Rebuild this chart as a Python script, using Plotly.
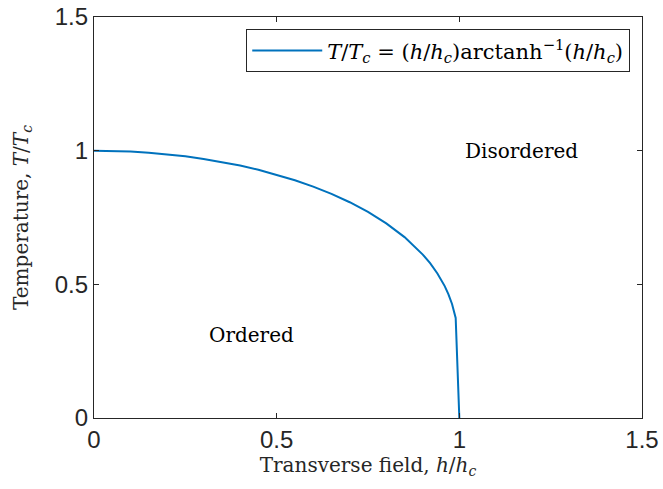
import plotly.graph_objects as go

# Data: h/hc and T/Tc along the phase boundary
h_vals = [0.0, 0.05, 0.10, 0.15, 0.20, 0.25, 0.30, 0.35, 0.40, 0.45, 0.50,
          0.55, 0.60, 0.65, 0.70, 0.75, 0.80, 0.85, 0.90, 0.92, 0.94, 0.95,
          0.96, 0.97, 0.98, 0.99, 1.00]
T_vals = [1.000, 0.9992, 0.9967, 0.9925, 0.9865, 0.9788, 0.9692, 0.9577,
          0.9442, 0.9284, 0.9102, 0.8894, 0.8656, 0.8384, 0.8071, 0.7709,
          0.7282, 0.6767, 0.6113, 0.5790, 0.5408, 0.5186, 0.4933, 0.4636,
          0.4265, 0.3741, 0.0]

tick_vals = [0, 0.5, 1, 1.5]
tick_text = ["0", "0.5", "1", "1.5"]

legend_label = ("<i>T</i>/<i>T<sub>c</sub></i> = (<i>h</i>/<i>h<sub>c</sub></i>)"
                "arctanh<sup>−1</sup>(<i>h</i>/<i>h<sub>c</sub></i>)")

region_labels = ["Disordered", "Ordered"]
region_x = [1.17, 0.43]
region_y = [1.0, 0.31]

serif = "DejaVu Serif"
sans = "Liberation Sans"
axis_color = "#262626"

fig = go.Figure()
fig.add_trace(go.Scatter(
    x=h_vals, y=T_vals, mode="lines",
    line=dict(color="#0072BD", width=2),
    name=legend_label,
))

for txt, xx, yy in zip(region_labels, region_x, region_y):
    fig.add_annotation(x=xx, y=yy, text=txt, showarrow=False,
                       font=dict(family=serif, size=20, color="black"))

axis_common = dict(
    range=[0, 1.5], tickvals=tick_vals, ticktext=tick_text,
    ticks="inside", ticklen=5, tickwidth=1, tickcolor=axis_color,
    showline=True, linecolor=axis_color, linewidth=1.3, mirror="allticks",
    showgrid=False, zeroline=False, automargin=False,
    tickfont=dict(family=sans, size=24, color=axis_color),
)

fig.update_layout(
    width=663, height=489,
    margin=dict(l=94, r=21, t=17, b=71, autoexpand=False),
    paper_bgcolor="white", plot_bgcolor="white",
    xaxis=dict(**axis_common,
               title=dict(text="Transverse field, <i>h</i>/<i>h<sub>c</sub></i>",
                          font=dict(family=serif, size=20, color=axis_color),
                          standoff=4)),
    yaxis=dict(**axis_common,
               title=dict(text="Temperature, <i>T</i>/<i>T<sub>c</sub></i>",
                          font=dict(family=serif, size=20, color=axis_color),
                          standoff=20)),
    showlegend=True,
    legend=dict(x=0.978, y=0.97, xanchor="right", yanchor="top",
                bgcolor="white", bordercolor=axis_color, borderwidth=1.3,
                itemwidth=70,
                font=dict(family=serif, size=21, color="black")),
)

fig.write_html("out.html")
